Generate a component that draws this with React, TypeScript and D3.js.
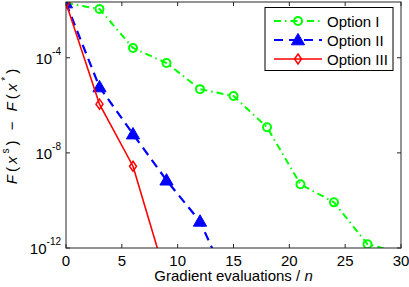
import React from 'react';
import * as d3 from 'd3';

// gradient evaluations / n
const evals = [0, 3, 6, 9, 12, 15, 18, 21, 24, 27, 30];
const evalsII = [0, 3, 6, 9, 12, 15];
const evalsIII = [0, 3, 6, 9];

// log10 of F(x^s) - F(x*)
const optionI = [-1.7, -1.95, -3.59, -4.22, -5.32, -5.61, -6.92, -9.32, -10.08, -11.84, -12.2];
const optionII = [-1.7, -5.23, -7.21, -9.15, -10.88, -14.0];
const optionIII = [-1.7, -5.95, -8.56, -13.3];

const xTicks = [0, 5, 10, 15, 20, 25, 30];
const yTicks = [-12, -8, -4];

const W = 409;
const H = 287;
const margin = { left: 66, right: 8, top: 2, bottom: 39 };
const font = '"Liberation Sans", Arial, Helvetica, sans-serif';

const App = () => {
  const x = d3.scaleLinear().domain([0, 30]).range([margin.left, W - margin.right]);
  const y = d3.scaleLinear().domain([-12, -1.655]).range([H - margin.bottom, margin.top]);
  const x0 = x.range()[0], x1 = x.range()[1];
  const y0 = y.range()[0], y1 = y.range()[1];

  const line = d3.line<[number, number]>().x(d => x(d[0])).y(d => y(d[1]));
  const pts = (xs: number[], ys: number[]) => xs.map((v, i) => [v, ys[i]] as [number, number]);

  const series = [
    { name: 'Option I', color: '#00ff00', dash: '7,4,1.5,4', width: 2, marker: 'circle', data: pts(evals, optionI) },
    { name: 'Option II', color: '#0000ff', dash: '9,6', width: 2.2, marker: 'triangle', data: pts(evalsII, optionII) },
    { name: 'Option III', color: '#ff0000', dash: null, width: 1.6, marker: 'diamond', data: pts(evalsIII, optionIII) },
  ];

  const marker = (kind: string, cx: number, cy: number, color: string, key: string) => {
    if (kind === 'circle')
      return <circle key={key} cx={cx} cy={cy} r={4} fill="none" stroke={color} strokeWidth={2} />;
    if (kind === 'triangle') {
      const p = d3.symbol(d3.symbolTriangle, 75)();
      return <path key={key} d={p!} transform={`translate(${cx},${cy + 1})`} fill={color} stroke={color} strokeWidth={1} />;
    }
    return (
      <path key={key} d={`M${cx},${cy - 5}L${cx + 3.5},${cy}L${cx},${cy + 5}L${cx - 3.5},${cy}Z`}
        fill="none" stroke={color} strokeWidth={1.5} />
    );
  };

  const axisColor = '#262626';

  return (
    <svg width={W} height={H} style={{ position: 'absolute', left: 0, top: 0, background: '#fff' }}
      fontFamily={font}>
      <defs>
        <clipPath id="plot">
          <rect x={x0} y={y1} width={x1 - x0} height={y0 - y1} />
        </clipPath>
      </defs>
      <rect x={0} y={0} width={W} height={H} fill="#fff" />

      {/* data */}
      <g clipPath="url(#plot)">
        {series.map(s => (
          <g key={s.name}>
            <path d={line(s.data)!} fill="none" stroke={s.color} strokeWidth={s.width}
              strokeDasharray={s.dash ?? undefined} />
            {s.data.map((d, i) => marker(s.marker, x(d[0]), y(d[1]), s.color, s.name + i))}
          </g>
        ))}
      </g>

      {/* box and ticks */}
      <rect x={x0} y={y1} width={x1 - x0} height={y0 - y1} fill="none" stroke={axisColor} strokeWidth={1} />
      {xTicks.map(t => (
        <g key={'xt' + t}>
          <line x1={x(t)} x2={x(t)} y1={y0} y2={y0 - 4} stroke={axisColor} />
          <line x1={x(t)} x2={x(t)} y1={y1} y2={y1 + 4} stroke={axisColor} />
          <text x={x(t)} y={y0 + 17.5} textAnchor="middle" fontSize={15} fill="#000">{t}</text>
        </g>
      ))}
      {yTicks.map(t => (
        <g key={'yt' + t}>
          <line x1={x0} x2={x0 + 4} y1={y(t)} y2={y(t)} stroke={axisColor} />
          <line x1={x1} x2={x1 - 4} y1={y(t)} y2={y(t)} stroke={axisColor} />
          <text x={x0 - 5} y={y(t) + 6} textAnchor="end" fontSize={15} fill="#000">
            10<tspan dy={-9} fontSize={10}>{t}</tspan>
          </text>
        </g>
      ))}

      {/* axis labels */}
      <text x={(x0 + x1) / 2} y={H - 6} textAnchor="middle" fontSize={15} fill="#000">
        Gradient evaluations / <tspan fontStyle="italic">n</tspan>
      </text>
      <text transform={`translate(17,${(y0 + y1) / 2}) rotate(-90)`} textAnchor="middle" fontSize={15}
        fill="#000" letterSpacing={3}>
        <tspan fontStyle="italic">F</tspan>(<tspan fontStyle="italic">x</tspan>
        <tspan dy={-8} fontSize={10}>s</tspan>
        <tspan dy={8}>) − </tspan>
        <tspan fontStyle="italic">F</tspan>(<tspan fontStyle="italic">x</tspan>
        <tspan dy={-8} fontSize={10}>*</tspan>
        <tspan dy={8}>)</tspan>
      </text>

      {/* legend */}
      <g>
        <rect x={265} y={7.5} width={128} height={63} fill="#fff" stroke="#000" strokeWidth={1} />
        {series.map((s, i) => {
          const ly = 21 + i * 19;
          return (
            <g key={'lg' + s.name}>
              <line x1={274} x2={322} y1={ly} y2={ly} stroke={s.color} strokeWidth={s.width}
                strokeDasharray={s.dash ?? undefined} />
              {marker(s.marker, 298, ly, s.color, 'lm' + i)}
              <text x={327} y={ly + 5.5} fontSize={15} fill="#000">{s.name}</text>
            </g>
          );
        })}
      </g>
    </svg>
  );
};

export default App;
